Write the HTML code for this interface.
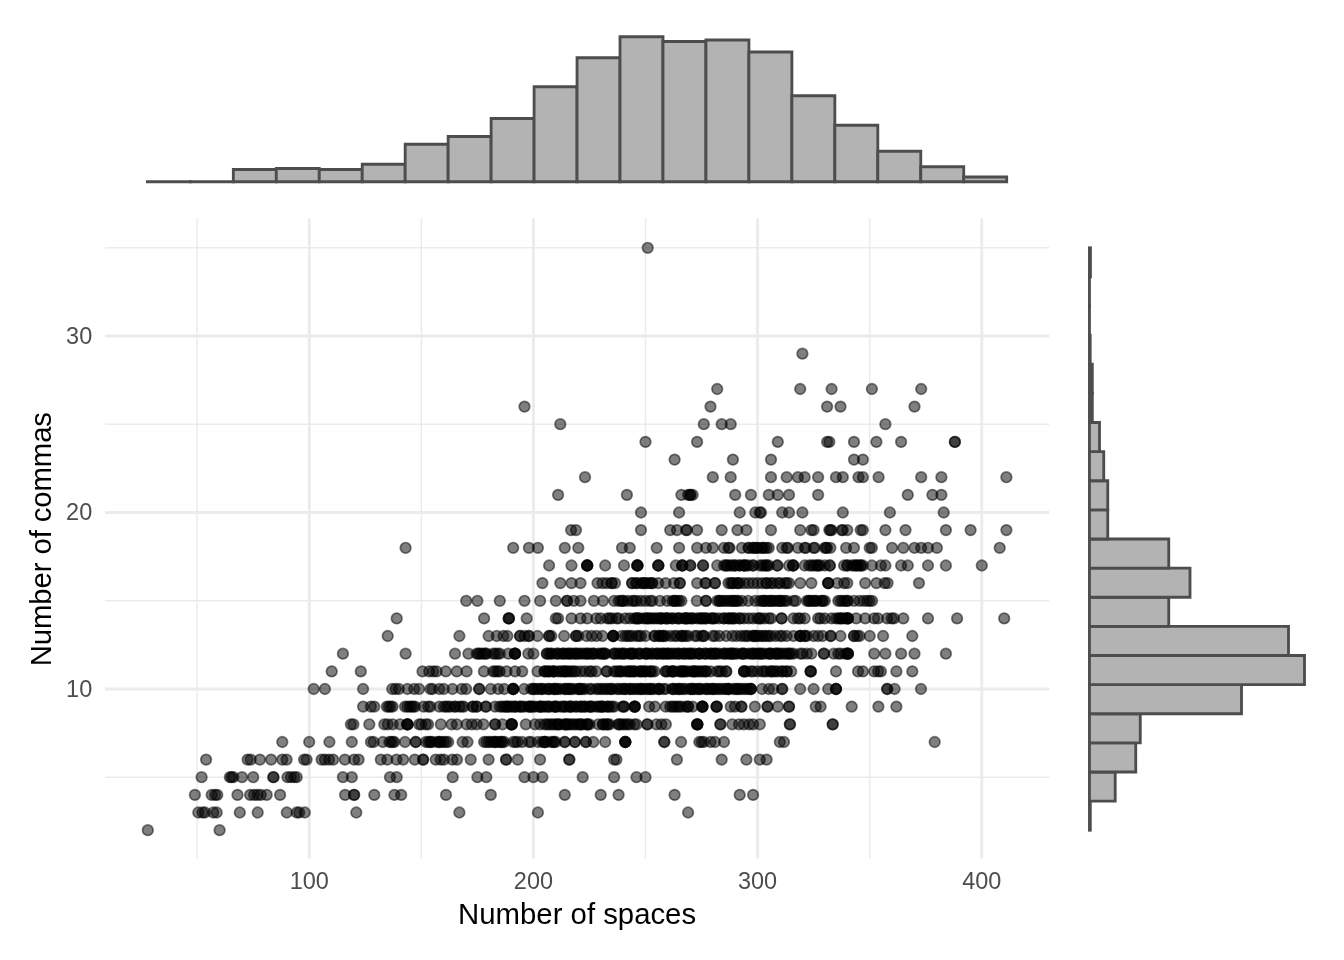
<!DOCTYPE html><html><head><meta charset="utf-8"><title>chart</title>
<style>html,body{margin:0;padding:0;background:#fff}svg{display:block;will-change:transform;transform:translateZ(0)}text{font-family:"Liberation Sans",sans-serif}</style></head><body>
<svg width="1344" height="960" viewBox="0 0 1344 960">
<rect width="1344" height="960" fill="#fff"/>
<g stroke="#EBEBEB" fill="none"><line x1="105.0" x2="1049.25" y1="777.25" y2="777.25" stroke-width="1.42"/><line x1="105.0" x2="1049.25" y1="600.75" y2="600.75" stroke-width="1.42"/><line x1="105.0" x2="1049.25" y1="424.25" y2="424.25" stroke-width="1.42"/><line x1="105.0" x2="1049.25" y1="247.75" y2="247.75" stroke-width="1.42"/><line y1="218.25" y2="858.75" x1="197.16" x2="197.16" stroke-width="1.42"/><line y1="218.25" y2="858.75" x1="421.33" x2="421.33" stroke-width="1.42"/><line y1="218.25" y2="858.75" x1="645.50" x2="645.50" stroke-width="1.42"/><line y1="218.25" y2="858.75" x1="869.67" x2="869.67" stroke-width="1.42"/><line x1="105.0" x2="1049.25" y1="689.00" y2="689.00" stroke-width="2.84"/><line x1="105.0" x2="1049.25" y1="512.50" y2="512.50" stroke-width="2.84"/><line x1="105.0" x2="1049.25" y1="336.00" y2="336.00" stroke-width="2.84"/><line y1="218.25" y2="858.75" x1="309.25" x2="309.25" stroke-width="2.84"/><line y1="218.25" y2="858.75" x1="533.42" x2="533.42" stroke-width="2.84"/><line y1="218.25" y2="858.75" x1="757.59" x2="757.59" stroke-width="2.84"/><line y1="218.25" y2="858.75" x1="981.76" x2="981.76" stroke-width="2.84"/></g>
<g fill="#000" fill-opacity="0.5" stroke="#000" stroke-opacity="0.5" stroke-width="1.7"><circle cx="647.7" cy="247.8" r="5.3"/><circle cx="802.4" cy="353.7" r="5.3"/><circle cx="717.2" cy="389.0" r="5.3"/><circle cx="800.2" cy="389.0" r="5.3"/><circle cx="831.6" cy="389.0" r="5.3"/><circle cx="871.9" cy="389.0" r="5.3"/><circle cx="921.2" cy="389.0" r="5.3"/><circle cx="524.5" cy="406.6" r="5.3"/><circle cx="710.5" cy="406.6" r="5.3"/><circle cx="827.1" cy="406.6" r="5.3"/><circle cx="840.5" cy="406.6" r="5.3"/><circle cx="914.5" cy="406.6" r="5.3"/><circle cx="560.3" cy="424.2" r="5.3"/><circle cx="703.8" cy="424.2" r="5.3"/><circle cx="721.7" cy="424.2" r="5.3"/><circle cx="730.7" cy="424.2" r="5.3"/><circle cx="885.4" cy="424.2" r="5.3"/><circle cx="645.5" cy="441.9" r="5.3"/><circle cx="697.1" cy="441.9" r="5.3"/><circle cx="777.8" cy="441.9" r="5.3"/><circle cx="827.1" cy="441.9" r="5.3"/><circle cx="829.3" cy="441.9" r="5.3"/><circle cx="854.0" cy="441.9" r="5.3"/><circle cx="876.4" cy="441.9" r="5.3"/><circle cx="901.1" cy="441.9" r="5.3"/><circle cx="954.9" cy="441.9" r="5.3"/><circle cx="954.9" cy="441.9" r="5.3"/><circle cx="674.6" cy="459.6" r="5.3"/><circle cx="732.9" cy="459.6" r="5.3"/><circle cx="771.0" cy="459.6" r="5.3"/><circle cx="854.0" cy="459.6" r="5.3"/><circle cx="862.9" cy="459.6" r="5.3"/><circle cx="585.0" cy="477.2" r="5.3"/><circle cx="712.8" cy="477.2" r="5.3"/><circle cx="730.7" cy="477.2" r="5.3"/><circle cx="771.0" cy="477.2" r="5.3"/><circle cx="786.7" cy="477.2" r="5.3"/><circle cx="797.9" cy="477.2" r="5.3"/><circle cx="804.7" cy="477.2" r="5.3"/><circle cx="818.1" cy="477.2" r="5.3"/><circle cx="836.0" cy="477.2" r="5.3"/><circle cx="842.8" cy="477.2" r="5.3"/><circle cx="858.5" cy="477.2" r="5.3"/><circle cx="862.9" cy="477.2" r="5.3"/><circle cx="878.6" cy="477.2" r="5.3"/><circle cx="921.2" cy="477.2" r="5.3"/><circle cx="941.4" cy="477.2" r="5.3"/><circle cx="1006.4" cy="477.2" r="5.3"/><circle cx="558.1" cy="494.9" r="5.3"/><circle cx="626.9" cy="494.9" r="5.3"/><circle cx="681.4" cy="494.9" r="5.3"/><circle cx="688.1" cy="494.9" r="5.3"/><circle cx="690.3" cy="494.9" r="5.3"/><circle cx="690.3" cy="494.9" r="5.3"/><circle cx="692.6" cy="494.9" r="5.3"/><circle cx="735.2" cy="494.9" r="5.3"/><circle cx="750.9" cy="494.9" r="5.3"/><circle cx="768.8" cy="494.9" r="5.3"/><circle cx="777.8" cy="494.9" r="5.3"/><circle cx="789.0" cy="494.9" r="5.3"/><circle cx="818.1" cy="494.9" r="5.3"/><circle cx="907.8" cy="494.9" r="5.3"/><circle cx="932.4" cy="494.9" r="5.3"/><circle cx="941.4" cy="494.9" r="5.3"/><circle cx="641.0" cy="512.5" r="5.3"/><circle cx="679.1" cy="512.5" r="5.3"/><circle cx="739.7" cy="512.5" r="5.3"/><circle cx="755.3" cy="512.5" r="5.3"/><circle cx="759.8" cy="512.5" r="5.3"/><circle cx="761.0" cy="512.5" r="5.3"/><circle cx="782.2" cy="512.5" r="5.3"/><circle cx="789.0" cy="512.5" r="5.3"/><circle cx="802.4" cy="512.5" r="5.3"/><circle cx="842.8" cy="512.5" r="5.3"/><circle cx="889.9" cy="512.5" r="5.3"/><circle cx="943.7" cy="512.5" r="5.3"/><circle cx="571.1" cy="530.1" r="5.3"/><circle cx="576.0" cy="530.1" r="5.3"/><circle cx="641.0" cy="530.1" r="5.3"/><circle cx="670.2" cy="530.1" r="5.3"/><circle cx="676.9" cy="530.1" r="5.3"/><circle cx="685.9" cy="530.1" r="5.3"/><circle cx="687.0" cy="530.1" r="5.3"/><circle cx="697.1" cy="530.1" r="5.3"/><circle cx="721.7" cy="530.1" r="5.3"/><circle cx="737.4" cy="530.1" r="5.3"/><circle cx="746.4" cy="530.1" r="5.3"/><circle cx="771.0" cy="530.1" r="5.3"/><circle cx="800.2" cy="530.1" r="5.3"/><circle cx="811.4" cy="530.1" r="5.3"/><circle cx="813.6" cy="530.1" r="5.3"/><circle cx="829.3" cy="530.1" r="5.3"/><circle cx="830.4" cy="530.1" r="5.3"/><circle cx="831.6" cy="530.1" r="5.3"/><circle cx="841.7" cy="530.1" r="5.3"/><circle cx="842.8" cy="530.1" r="5.3"/><circle cx="847.3" cy="530.1" r="5.3"/><circle cx="860.7" cy="530.1" r="5.3"/><circle cx="862.9" cy="530.1" r="5.3"/><circle cx="885.4" cy="530.1" r="5.3"/><circle cx="905.5" cy="530.1" r="5.3"/><circle cx="945.9" cy="530.1" r="5.3"/><circle cx="970.6" cy="530.1" r="5.3"/><circle cx="1006.4" cy="530.1" r="5.3"/><circle cx="405.6" cy="547.8" r="5.3"/><circle cx="513.2" cy="547.8" r="5.3"/><circle cx="528.9" cy="547.8" r="5.3"/><circle cx="537.9" cy="547.8" r="5.3"/><circle cx="564.8" cy="547.8" r="5.3"/><circle cx="578.3" cy="547.8" r="5.3"/><circle cx="622.0" cy="547.8" r="5.3"/><circle cx="629.8" cy="547.8" r="5.3"/><circle cx="656.7" cy="547.8" r="5.3"/><circle cx="679.1" cy="547.8" r="5.3"/><circle cx="697.1" cy="547.8" r="5.3"/><circle cx="706.0" cy="547.8" r="5.3"/><circle cx="712.8" cy="547.8" r="5.3"/><circle cx="724.0" cy="547.8" r="5.3"/><circle cx="728.4" cy="547.8" r="5.3"/><circle cx="729.6" cy="547.8" r="5.3"/><circle cx="741.9" cy="547.8" r="5.3"/><circle cx="748.6" cy="547.8" r="5.3"/><circle cx="748.6" cy="547.8" r="5.3"/><circle cx="753.1" cy="547.8" r="5.3"/><circle cx="753.1" cy="547.8" r="5.3"/><circle cx="755.3" cy="547.8" r="5.3"/><circle cx="757.6" cy="547.8" r="5.3"/><circle cx="757.6" cy="547.8" r="5.3"/><circle cx="762.1" cy="547.8" r="5.3"/><circle cx="762.1" cy="547.8" r="5.3"/><circle cx="764.3" cy="547.8" r="5.3"/><circle cx="766.6" cy="547.8" r="5.3"/><circle cx="768.8" cy="547.8" r="5.3"/><circle cx="782.2" cy="547.8" r="5.3"/><circle cx="786.7" cy="547.8" r="5.3"/><circle cx="787.9" cy="547.8" r="5.3"/><circle cx="797.9" cy="547.8" r="5.3"/><circle cx="804.7" cy="547.8" r="5.3"/><circle cx="805.8" cy="547.8" r="5.3"/><circle cx="813.6" cy="547.8" r="5.3"/><circle cx="814.8" cy="547.8" r="5.3"/><circle cx="824.8" cy="547.8" r="5.3"/><circle cx="826.0" cy="547.8" r="5.3"/><circle cx="827.1" cy="547.8" r="5.3"/><circle cx="830.4" cy="547.8" r="5.3"/><circle cx="846.1" cy="547.8" r="5.3"/><circle cx="854.0" cy="547.8" r="5.3"/><circle cx="869.7" cy="547.8" r="5.3"/><circle cx="871.9" cy="547.8" r="5.3"/><circle cx="892.1" cy="547.8" r="5.3"/><circle cx="903.3" cy="547.8" r="5.3"/><circle cx="914.5" cy="547.8" r="5.3"/><circle cx="921.2" cy="547.8" r="5.3"/><circle cx="928.0" cy="547.8" r="5.3"/><circle cx="936.9" cy="547.8" r="5.3"/><circle cx="999.7" cy="547.8" r="5.3"/><circle cx="549.1" cy="565.5" r="5.3"/><circle cx="571.5" cy="565.5" r="5.3"/><circle cx="587.2" cy="565.5" r="5.3"/><circle cx="587.2" cy="565.5" r="5.3"/><circle cx="587.2" cy="565.5" r="5.3"/><circle cx="587.2" cy="565.5" r="5.3"/><circle cx="605.2" cy="565.5" r="5.3"/><circle cx="624.0" cy="565.5" r="5.3"/><circle cx="637.4" cy="565.5" r="5.3"/><circle cx="637.4" cy="565.5" r="5.3"/><circle cx="637.4" cy="565.5" r="5.3"/><circle cx="637.4" cy="565.5" r="5.3"/><circle cx="658.3" cy="565.5" r="5.3"/><circle cx="658.3" cy="565.5" r="5.3"/><circle cx="658.3" cy="565.5" r="5.3"/><circle cx="675.8" cy="565.5" r="5.3"/><circle cx="682.3" cy="565.5" r="5.3"/><circle cx="682.3" cy="565.5" r="5.3"/><circle cx="682.3" cy="565.5" r="5.3"/><circle cx="690.3" cy="565.5" r="5.3"/><circle cx="690.3" cy="565.5" r="5.3"/><circle cx="703.1" cy="565.5" r="5.3"/><circle cx="703.1" cy="565.5" r="5.3"/><circle cx="717.2" cy="565.5" r="5.3"/><circle cx="724.0" cy="565.5" r="5.3"/><circle cx="726.2" cy="565.5" r="5.3"/><circle cx="726.2" cy="565.5" r="5.3"/><circle cx="728.4" cy="565.5" r="5.3"/><circle cx="730.7" cy="565.5" r="5.3"/><circle cx="732.9" cy="565.5" r="5.3"/><circle cx="735.2" cy="565.5" r="5.3"/><circle cx="735.2" cy="565.5" r="5.3"/><circle cx="739.7" cy="565.5" r="5.3"/><circle cx="739.7" cy="565.5" r="5.3"/><circle cx="744.1" cy="565.5" r="5.3"/><circle cx="744.1" cy="565.5" r="5.3"/><circle cx="744.1" cy="565.5" r="5.3"/><circle cx="746.4" cy="565.5" r="5.3"/><circle cx="748.6" cy="565.5" r="5.3"/><circle cx="753.1" cy="565.5" r="5.3"/><circle cx="753.1" cy="565.5" r="5.3"/><circle cx="759.8" cy="565.5" r="5.3"/><circle cx="762.1" cy="565.5" r="5.3"/><circle cx="764.3" cy="565.5" r="5.3"/><circle cx="766.6" cy="565.5" r="5.3"/><circle cx="766.6" cy="565.5" r="5.3"/><circle cx="768.8" cy="565.5" r="5.3"/><circle cx="777.3" cy="565.5" r="5.3"/><circle cx="777.3" cy="565.5" r="5.3"/><circle cx="789.0" cy="565.5" r="5.3"/><circle cx="793.2" cy="565.5" r="5.3"/><circle cx="793.2" cy="565.5" r="5.3"/><circle cx="793.2" cy="565.5" r="5.3"/><circle cx="804.7" cy="565.5" r="5.3"/><circle cx="809.1" cy="565.5" r="5.3"/><circle cx="811.4" cy="565.5" r="5.3"/><circle cx="813.6" cy="565.5" r="5.3"/><circle cx="815.9" cy="565.5" r="5.3"/><circle cx="818.1" cy="565.5" r="5.3"/><circle cx="818.1" cy="565.5" r="5.3"/><circle cx="820.4" cy="565.5" r="5.3"/><circle cx="824.8" cy="565.5" r="5.3"/><circle cx="829.8" cy="565.5" r="5.3"/><circle cx="829.8" cy="565.5" r="5.3"/><circle cx="844.1" cy="565.5" r="5.3"/><circle cx="847.3" cy="565.5" r="5.3"/><circle cx="847.3" cy="565.5" r="5.3"/><circle cx="851.7" cy="565.5" r="5.3"/><circle cx="854.0" cy="565.5" r="5.3"/><circle cx="856.2" cy="565.5" r="5.3"/><circle cx="856.2" cy="565.5" r="5.3"/><circle cx="858.5" cy="565.5" r="5.3"/><circle cx="860.7" cy="565.5" r="5.3"/><circle cx="860.7" cy="565.5" r="5.3"/><circle cx="862.9" cy="565.5" r="5.3"/><circle cx="871.9" cy="565.5" r="5.3"/><circle cx="880.9" cy="565.5" r="5.3"/><circle cx="885.4" cy="565.5" r="5.3"/><circle cx="901.1" cy="565.5" r="5.3"/><circle cx="907.8" cy="565.5" r="5.3"/><circle cx="928.0" cy="565.5" r="5.3"/><circle cx="945.9" cy="565.5" r="5.3"/><circle cx="981.8" cy="565.5" r="5.3"/><circle cx="542.4" cy="583.1" r="5.3"/><circle cx="560.3" cy="583.1" r="5.3"/><circle cx="571.5" cy="583.1" r="5.3"/><circle cx="580.5" cy="583.1" r="5.3"/><circle cx="597.5" cy="583.1" r="5.3"/><circle cx="602.5" cy="583.1" r="5.3"/><circle cx="606.7" cy="583.1" r="5.3"/><circle cx="611.7" cy="583.1" r="5.3"/><circle cx="611.7" cy="583.1" r="5.3"/><circle cx="615.0" cy="583.1" r="5.3"/><circle cx="632.1" cy="583.1" r="5.3"/><circle cx="632.1" cy="583.1" r="5.3"/><circle cx="636.5" cy="583.1" r="5.3"/><circle cx="636.5" cy="583.1" r="5.3"/><circle cx="641.0" cy="583.1" r="5.3"/><circle cx="643.3" cy="583.1" r="5.3"/><circle cx="643.3" cy="583.1" r="5.3"/><circle cx="645.5" cy="583.1" r="5.3"/><circle cx="647.7" cy="583.1" r="5.3"/><circle cx="650.0" cy="583.1" r="5.3"/><circle cx="652.2" cy="583.1" r="5.3"/><circle cx="652.2" cy="583.1" r="5.3"/><circle cx="658.3" cy="583.1" r="5.3"/><circle cx="665.7" cy="583.1" r="5.3"/><circle cx="674.0" cy="583.1" r="5.3"/><circle cx="679.8" cy="583.1" r="5.3"/><circle cx="679.8" cy="583.1" r="5.3"/><circle cx="697.1" cy="583.1" r="5.3"/><circle cx="705.6" cy="583.1" r="5.3"/><circle cx="705.6" cy="583.1" r="5.3"/><circle cx="715.0" cy="583.1" r="5.3"/><circle cx="715.0" cy="583.1" r="5.3"/><circle cx="728.4" cy="583.1" r="5.3"/><circle cx="730.7" cy="583.1" r="5.3"/><circle cx="732.9" cy="583.1" r="5.3"/><circle cx="732.9" cy="583.1" r="5.3"/><circle cx="737.4" cy="583.1" r="5.3"/><circle cx="737.4" cy="583.1" r="5.3"/><circle cx="739.7" cy="583.1" r="5.3"/><circle cx="744.1" cy="583.1" r="5.3"/><circle cx="748.6" cy="583.1" r="5.3"/><circle cx="753.1" cy="583.1" r="5.3"/><circle cx="757.6" cy="583.1" r="5.3"/><circle cx="762.1" cy="583.1" r="5.3"/><circle cx="766.6" cy="583.1" r="5.3"/><circle cx="766.6" cy="583.1" r="5.3"/><circle cx="771.0" cy="583.1" r="5.3"/><circle cx="773.3" cy="583.1" r="5.3"/><circle cx="777.8" cy="583.1" r="5.3"/><circle cx="780.0" cy="583.1" r="5.3"/><circle cx="784.5" cy="583.1" r="5.3"/><circle cx="786.7" cy="583.1" r="5.3"/><circle cx="789.0" cy="583.1" r="5.3"/><circle cx="800.2" cy="583.1" r="5.3"/><circle cx="811.4" cy="583.1" r="5.3"/><circle cx="828.2" cy="583.1" r="5.3"/><circle cx="828.2" cy="583.1" r="5.3"/><circle cx="828.2" cy="583.1" r="5.3"/><circle cx="837.4" cy="583.1" r="5.3"/><circle cx="844.1" cy="583.1" r="5.3"/><circle cx="847.3" cy="583.1" r="5.3"/><circle cx="865.2" cy="583.1" r="5.3"/><circle cx="876.4" cy="583.1" r="5.3"/><circle cx="884.7" cy="583.1" r="5.3"/><circle cx="887.6" cy="583.1" r="5.3"/><circle cx="919.0" cy="583.1" r="5.3"/><circle cx="466.2" cy="600.8" r="5.3"/><circle cx="477.4" cy="600.8" r="5.3"/><circle cx="499.8" cy="600.8" r="5.3"/><circle cx="524.5" cy="600.8" r="5.3"/><circle cx="540.1" cy="600.8" r="5.3"/><circle cx="555.8" cy="600.8" r="5.3"/><circle cx="567.0" cy="600.8" r="5.3"/><circle cx="567.0" cy="600.8" r="5.3"/><circle cx="573.8" cy="600.8" r="5.3"/><circle cx="580.5" cy="600.8" r="5.3"/><circle cx="593.9" cy="600.8" r="5.3"/><circle cx="602.9" cy="600.8" r="5.3"/><circle cx="614.1" cy="600.8" r="5.3"/><circle cx="618.6" cy="600.8" r="5.3"/><circle cx="620.8" cy="600.8" r="5.3"/><circle cx="623.1" cy="600.8" r="5.3"/><circle cx="623.1" cy="600.8" r="5.3"/><circle cx="627.6" cy="600.8" r="5.3"/><circle cx="632.1" cy="600.8" r="5.3"/><circle cx="634.3" cy="600.8" r="5.3"/><circle cx="636.5" cy="600.8" r="5.3"/><circle cx="641.0" cy="600.8" r="5.3"/><circle cx="645.5" cy="600.8" r="5.3"/><circle cx="650.0" cy="600.8" r="5.3"/><circle cx="652.2" cy="600.8" r="5.3"/><circle cx="659.9" cy="600.8" r="5.3"/><circle cx="667.2" cy="600.8" r="5.3"/><circle cx="672.4" cy="600.8" r="5.3"/><circle cx="674.6" cy="600.8" r="5.3"/><circle cx="674.6" cy="600.8" r="5.3"/><circle cx="676.9" cy="600.8" r="5.3"/><circle cx="679.1" cy="600.8" r="5.3"/><circle cx="681.4" cy="600.8" r="5.3"/><circle cx="696.8" cy="600.8" r="5.3"/><circle cx="706.0" cy="600.8" r="5.3"/><circle cx="706.0" cy="600.8" r="5.3"/><circle cx="717.2" cy="600.8" r="5.3"/><circle cx="719.5" cy="600.8" r="5.3"/><circle cx="719.5" cy="600.8" r="5.3"/><circle cx="721.7" cy="600.8" r="5.3"/><circle cx="724.0" cy="600.8" r="5.3"/><circle cx="726.2" cy="600.8" r="5.3"/><circle cx="728.4" cy="600.8" r="5.3"/><circle cx="730.7" cy="600.8" r="5.3"/><circle cx="732.9" cy="600.8" r="5.3"/><circle cx="732.9" cy="600.8" r="5.3"/><circle cx="735.2" cy="600.8" r="5.3"/><circle cx="737.4" cy="600.8" r="5.3"/><circle cx="737.4" cy="600.8" r="5.3"/><circle cx="741.9" cy="600.8" r="5.3"/><circle cx="748.2" cy="600.8" r="5.3"/><circle cx="755.3" cy="600.8" r="5.3"/><circle cx="759.8" cy="600.8" r="5.3"/><circle cx="762.1" cy="600.8" r="5.3"/><circle cx="764.3" cy="600.8" r="5.3"/><circle cx="764.3" cy="600.8" r="5.3"/><circle cx="766.6" cy="600.8" r="5.3"/><circle cx="768.8" cy="600.8" r="5.3"/><circle cx="771.0" cy="600.8" r="5.3"/><circle cx="771.0" cy="600.8" r="5.3"/><circle cx="773.3" cy="600.8" r="5.3"/><circle cx="775.5" cy="600.8" r="5.3"/><circle cx="777.8" cy="600.8" r="5.3"/><circle cx="780.0" cy="600.8" r="5.3"/><circle cx="780.0" cy="600.8" r="5.3"/><circle cx="782.2" cy="600.8" r="5.3"/><circle cx="784.5" cy="600.8" r="5.3"/><circle cx="786.7" cy="600.8" r="5.3"/><circle cx="793.5" cy="600.8" r="5.3"/><circle cx="795.7" cy="600.8" r="5.3"/><circle cx="806.9" cy="600.8" r="5.3"/><circle cx="809.1" cy="600.8" r="5.3"/><circle cx="809.1" cy="600.8" r="5.3"/><circle cx="811.4" cy="600.8" r="5.3"/><circle cx="813.6" cy="600.8" r="5.3"/><circle cx="815.9" cy="600.8" r="5.3"/><circle cx="815.9" cy="600.8" r="5.3"/><circle cx="820.4" cy="600.8" r="5.3"/><circle cx="822.6" cy="600.8" r="5.3"/><circle cx="822.6" cy="600.8" r="5.3"/><circle cx="824.8" cy="600.8" r="5.3"/><circle cx="838.3" cy="600.8" r="5.3"/><circle cx="840.5" cy="600.8" r="5.3"/><circle cx="842.8" cy="600.8" r="5.3"/><circle cx="845.0" cy="600.8" r="5.3"/><circle cx="847.3" cy="600.8" r="5.3"/><circle cx="847.9" cy="600.8" r="5.3"/><circle cx="854.0" cy="600.8" r="5.3"/><circle cx="859.6" cy="600.8" r="5.3"/><circle cx="863.8" cy="600.8" r="5.3"/><circle cx="867.2" cy="600.8" r="5.3"/><circle cx="869.7" cy="600.8" r="5.3"/><circle cx="872.1" cy="600.8" r="5.3"/><circle cx="396.7" cy="618.4" r="5.3"/><circle cx="484.1" cy="618.4" r="5.3"/><circle cx="508.8" cy="618.4" r="5.3"/><circle cx="508.8" cy="618.4" r="5.3"/><circle cx="508.8" cy="618.4" r="5.3"/><circle cx="526.7" cy="618.4" r="5.3"/><circle cx="555.8" cy="618.4" r="5.3"/><circle cx="558.1" cy="618.4" r="5.3"/><circle cx="571.5" cy="618.4" r="5.3"/><circle cx="580.5" cy="618.4" r="5.3"/><circle cx="587.2" cy="618.4" r="5.3"/><circle cx="596.2" cy="618.4" r="5.3"/><circle cx="600.7" cy="618.4" r="5.3"/><circle cx="607.4" cy="618.4" r="5.3"/><circle cx="609.6" cy="618.4" r="5.3"/><circle cx="611.9" cy="618.4" r="5.3"/><circle cx="616.4" cy="618.4" r="5.3"/><circle cx="618.6" cy="618.4" r="5.3"/><circle cx="625.3" cy="618.4" r="5.3"/><circle cx="629.8" cy="618.4" r="5.3"/><circle cx="634.3" cy="618.4" r="5.3"/><circle cx="636.5" cy="618.4" r="5.3"/><circle cx="636.5" cy="618.4" r="5.3"/><circle cx="638.8" cy="618.4" r="5.3"/><circle cx="638.8" cy="618.4" r="5.3"/><circle cx="643.3" cy="618.4" r="5.3"/><circle cx="645.5" cy="618.4" r="5.3"/><circle cx="647.7" cy="618.4" r="5.3"/><circle cx="647.7" cy="618.4" r="5.3"/><circle cx="650.0" cy="618.4" r="5.3"/><circle cx="652.2" cy="618.4" r="5.3"/><circle cx="654.5" cy="618.4" r="5.3"/><circle cx="656.7" cy="618.4" r="5.3"/><circle cx="659.0" cy="618.4" r="5.3"/><circle cx="661.2" cy="618.4" r="5.3"/><circle cx="661.2" cy="618.4" r="5.3"/><circle cx="661.2" cy="618.4" r="5.3"/><circle cx="665.7" cy="618.4" r="5.3"/><circle cx="665.7" cy="618.4" r="5.3"/><circle cx="667.9" cy="618.4" r="5.3"/><circle cx="667.9" cy="618.4" r="5.3"/><circle cx="672.4" cy="618.4" r="5.3"/><circle cx="672.4" cy="618.4" r="5.3"/><circle cx="676.9" cy="618.4" r="5.3"/><circle cx="679.1" cy="618.4" r="5.3"/><circle cx="679.1" cy="618.4" r="5.3"/><circle cx="683.6" cy="618.4" r="5.3"/><circle cx="685.9" cy="618.4" r="5.3"/><circle cx="685.9" cy="618.4" r="5.3"/><circle cx="685.9" cy="618.4" r="5.3"/><circle cx="688.1" cy="618.4" r="5.3"/><circle cx="690.3" cy="618.4" r="5.3"/><circle cx="692.6" cy="618.4" r="5.3"/><circle cx="692.6" cy="618.4" r="5.3"/><circle cx="697.1" cy="618.4" r="5.3"/><circle cx="699.3" cy="618.4" r="5.3"/><circle cx="701.5" cy="618.4" r="5.3"/><circle cx="701.5" cy="618.4" r="5.3"/><circle cx="703.8" cy="618.4" r="5.3"/><circle cx="706.0" cy="618.4" r="5.3"/><circle cx="706.0" cy="618.4" r="5.3"/><circle cx="710.5" cy="618.4" r="5.3"/><circle cx="712.8" cy="618.4" r="5.3"/><circle cx="712.8" cy="618.4" r="5.3"/><circle cx="715.0" cy="618.4" r="5.3"/><circle cx="719.0" cy="618.4" r="5.3"/><circle cx="724.0" cy="618.4" r="5.3"/><circle cx="724.0" cy="618.4" r="5.3"/><circle cx="728.4" cy="618.4" r="5.3"/><circle cx="728.4" cy="618.4" r="5.3"/><circle cx="730.7" cy="618.4" r="5.3"/><circle cx="732.9" cy="618.4" r="5.3"/><circle cx="732.9" cy="618.4" r="5.3"/><circle cx="735.2" cy="618.4" r="5.3"/><circle cx="739.7" cy="618.4" r="5.3"/><circle cx="739.7" cy="618.4" r="5.3"/><circle cx="744.1" cy="618.4" r="5.3"/><circle cx="748.6" cy="618.4" r="5.3"/><circle cx="753.1" cy="618.4" r="5.3"/><circle cx="757.6" cy="618.4" r="5.3"/><circle cx="759.8" cy="618.4" r="5.3"/><circle cx="759.8" cy="618.4" r="5.3"/><circle cx="764.3" cy="618.4" r="5.3"/><circle cx="768.8" cy="618.4" r="5.3"/><circle cx="771.0" cy="618.4" r="5.3"/><circle cx="781.6" cy="618.4" r="5.3"/><circle cx="781.6" cy="618.4" r="5.3"/><circle cx="793.5" cy="618.4" r="5.3"/><circle cx="797.9" cy="618.4" r="5.3"/><circle cx="800.2" cy="618.4" r="5.3"/><circle cx="804.7" cy="618.4" r="5.3"/><circle cx="818.1" cy="618.4" r="5.3"/><circle cx="820.4" cy="618.4" r="5.3"/><circle cx="824.8" cy="618.4" r="5.3"/><circle cx="831.6" cy="618.4" r="5.3"/><circle cx="836.0" cy="618.4" r="5.3"/><circle cx="838.3" cy="618.4" r="5.3"/><circle cx="840.5" cy="618.4" r="5.3"/><circle cx="840.5" cy="618.4" r="5.3"/><circle cx="842.8" cy="618.4" r="5.3"/><circle cx="845.0" cy="618.4" r="5.3"/><circle cx="847.3" cy="618.4" r="5.3"/><circle cx="847.9" cy="618.4" r="5.3"/><circle cx="847.9" cy="618.4" r="5.3"/><circle cx="847.9" cy="618.4" r="5.3"/><circle cx="856.2" cy="618.4" r="5.3"/><circle cx="865.2" cy="618.4" r="5.3"/><circle cx="874.2" cy="618.4" r="5.3"/><circle cx="878.0" cy="618.4" r="5.3"/><circle cx="887.2" cy="618.4" r="5.3"/><circle cx="891.6" cy="618.4" r="5.3"/><circle cx="893.9" cy="618.4" r="5.3"/><circle cx="903.3" cy="618.4" r="5.3"/><circle cx="928.0" cy="618.4" r="5.3"/><circle cx="957.1" cy="618.4" r="5.3"/><circle cx="1004.2" cy="618.4" r="5.3"/><circle cx="387.7" cy="636.0" r="5.3"/><circle cx="459.4" cy="636.0" r="5.3"/><circle cx="488.6" cy="636.0" r="5.3"/><circle cx="496.7" cy="636.0" r="5.3"/><circle cx="503.4" cy="636.0" r="5.3"/><circle cx="507.4" cy="636.0" r="5.3"/><circle cx="520.0" cy="636.0" r="5.3"/><circle cx="520.0" cy="636.0" r="5.3"/><circle cx="524.5" cy="636.0" r="5.3"/><circle cx="528.9" cy="636.0" r="5.3"/><circle cx="528.9" cy="636.0" r="5.3"/><circle cx="537.5" cy="636.0" r="5.3"/><circle cx="549.1" cy="636.0" r="5.3"/><circle cx="549.1" cy="636.0" r="5.3"/><circle cx="551.4" cy="636.0" r="5.3"/><circle cx="564.1" cy="636.0" r="5.3"/><circle cx="576.0" cy="636.0" r="5.3"/><circle cx="576.0" cy="636.0" r="5.3"/><circle cx="578.3" cy="636.0" r="5.3"/><circle cx="586.5" cy="636.0" r="5.3"/><circle cx="591.7" cy="636.0" r="5.3"/><circle cx="596.6" cy="636.0" r="5.3"/><circle cx="602.5" cy="636.0" r="5.3"/><circle cx="613.2" cy="636.0" r="5.3"/><circle cx="613.2" cy="636.0" r="5.3"/><circle cx="613.2" cy="636.0" r="5.3"/><circle cx="613.2" cy="636.0" r="5.3"/><circle cx="621.7" cy="636.0" r="5.3"/><circle cx="625.3" cy="636.0" r="5.3"/><circle cx="627.6" cy="636.0" r="5.3"/><circle cx="629.8" cy="636.0" r="5.3"/><circle cx="632.1" cy="636.0" r="5.3"/><circle cx="636.5" cy="636.0" r="5.3"/><circle cx="638.8" cy="636.0" r="5.3"/><circle cx="641.0" cy="636.0" r="5.3"/><circle cx="645.5" cy="636.0" r="5.3"/><circle cx="654.5" cy="636.0" r="5.3"/><circle cx="654.5" cy="636.0" r="5.3"/><circle cx="659.0" cy="636.0" r="5.3"/><circle cx="659.0" cy="636.0" r="5.3"/><circle cx="661.2" cy="636.0" r="5.3"/><circle cx="663.4" cy="636.0" r="5.3"/><circle cx="663.4" cy="636.0" r="5.3"/><circle cx="665.7" cy="636.0" r="5.3"/><circle cx="670.6" cy="636.0" r="5.3"/><circle cx="674.6" cy="636.0" r="5.3"/><circle cx="676.9" cy="636.0" r="5.3"/><circle cx="681.4" cy="636.0" r="5.3"/><circle cx="681.4" cy="636.0" r="5.3"/><circle cx="683.6" cy="636.0" r="5.3"/><circle cx="685.9" cy="636.0" r="5.3"/><circle cx="688.1" cy="636.0" r="5.3"/><circle cx="694.8" cy="636.0" r="5.3"/><circle cx="697.1" cy="636.0" r="5.3"/><circle cx="701.5" cy="636.0" r="5.3"/><circle cx="703.8" cy="636.0" r="5.3"/><circle cx="703.8" cy="636.0" r="5.3"/><circle cx="712.8" cy="636.0" r="5.3"/><circle cx="715.0" cy="636.0" r="5.3"/><circle cx="719.5" cy="636.0" r="5.3"/><circle cx="726.2" cy="636.0" r="5.3"/><circle cx="732.3" cy="636.0" r="5.3"/><circle cx="736.3" cy="636.0" r="5.3"/><circle cx="740.8" cy="636.0" r="5.3"/><circle cx="744.1" cy="636.0" r="5.3"/><circle cx="746.4" cy="636.0" r="5.3"/><circle cx="748.6" cy="636.0" r="5.3"/><circle cx="753.1" cy="636.0" r="5.3"/><circle cx="753.1" cy="636.0" r="5.3"/><circle cx="755.3" cy="636.0" r="5.3"/><circle cx="755.3" cy="636.0" r="5.3"/><circle cx="757.6" cy="636.0" r="5.3"/><circle cx="759.8" cy="636.0" r="5.3"/><circle cx="762.1" cy="636.0" r="5.3"/><circle cx="764.3" cy="636.0" r="5.3"/><circle cx="766.6" cy="636.0" r="5.3"/><circle cx="768.8" cy="636.0" r="5.3"/><circle cx="771.0" cy="636.0" r="5.3"/><circle cx="775.5" cy="636.0" r="5.3"/><circle cx="780.0" cy="636.0" r="5.3"/><circle cx="782.2" cy="636.0" r="5.3"/><circle cx="786.7" cy="636.0" r="5.3"/><circle cx="793.5" cy="636.0" r="5.3"/><circle cx="800.2" cy="636.0" r="5.3"/><circle cx="800.2" cy="636.0" r="5.3"/><circle cx="800.2" cy="636.0" r="5.3"/><circle cx="804.7" cy="636.0" r="5.3"/><circle cx="804.7" cy="636.0" r="5.3"/><circle cx="806.9" cy="636.0" r="5.3"/><circle cx="813.6" cy="636.0" r="5.3"/><circle cx="818.1" cy="636.0" r="5.3"/><circle cx="822.6" cy="636.0" r="5.3"/><circle cx="830.7" cy="636.0" r="5.3"/><circle cx="830.7" cy="636.0" r="5.3"/><circle cx="840.5" cy="636.0" r="5.3"/><circle cx="854.0" cy="636.0" r="5.3"/><circle cx="854.0" cy="636.0" r="5.3"/><circle cx="857.3" cy="636.0" r="5.3"/><circle cx="859.6" cy="636.0" r="5.3"/><circle cx="869.7" cy="636.0" r="5.3"/><circle cx="883.1" cy="636.0" r="5.3"/><circle cx="912.3" cy="636.0" r="5.3"/><circle cx="342.9" cy="653.7" r="5.3"/><circle cx="405.6" cy="653.7" r="5.3"/><circle cx="455.0" cy="653.7" r="5.3"/><circle cx="468.4" cy="653.7" r="5.3"/><circle cx="476.7" cy="653.7" r="5.3"/><circle cx="478.5" cy="653.7" r="5.3"/><circle cx="479.6" cy="653.7" r="5.3"/><circle cx="481.9" cy="653.7" r="5.3"/><circle cx="484.1" cy="653.7" r="5.3"/><circle cx="485.4" cy="653.7" r="5.3"/><circle cx="486.6" cy="653.7" r="5.3"/><circle cx="493.1" cy="653.7" r="5.3"/><circle cx="495.3" cy="653.7" r="5.3"/><circle cx="497.6" cy="653.7" r="5.3"/><circle cx="499.8" cy="653.7" r="5.3"/><circle cx="508.3" cy="653.7" r="5.3"/><circle cx="515.0" cy="653.7" r="5.3"/><circle cx="515.0" cy="653.7" r="5.3"/><circle cx="515.0" cy="653.7" r="5.3"/><circle cx="515.0" cy="653.7" r="5.3"/><circle cx="528.3" cy="653.7" r="5.3"/><circle cx="533.4" cy="653.7" r="5.3"/><circle cx="546.9" cy="653.7" r="5.3"/><circle cx="546.9" cy="653.7" r="5.3"/><circle cx="549.1" cy="653.7" r="5.3"/><circle cx="551.4" cy="653.7" r="5.3"/><circle cx="551.4" cy="653.7" r="5.3"/><circle cx="555.8" cy="653.7" r="5.3"/><circle cx="558.1" cy="653.7" r="5.3"/><circle cx="558.1" cy="653.7" r="5.3"/><circle cx="562.6" cy="653.7" r="5.3"/><circle cx="562.6" cy="653.7" r="5.3"/><circle cx="564.8" cy="653.7" r="5.3"/><circle cx="567.0" cy="653.7" r="5.3"/><circle cx="569.3" cy="653.7" r="5.3"/><circle cx="569.3" cy="653.7" r="5.3"/><circle cx="571.5" cy="653.7" r="5.3"/><circle cx="573.8" cy="653.7" r="5.3"/><circle cx="576.0" cy="653.7" r="5.3"/><circle cx="576.0" cy="653.7" r="5.3"/><circle cx="578.3" cy="653.7" r="5.3"/><circle cx="582.7" cy="653.7" r="5.3"/><circle cx="580.5" cy="653.7" r="5.3"/><circle cx="585.0" cy="653.7" r="5.3"/><circle cx="587.2" cy="653.7" r="5.3"/><circle cx="587.2" cy="653.7" r="5.3"/><circle cx="589.5" cy="653.7" r="5.3"/><circle cx="591.7" cy="653.7" r="5.3"/><circle cx="593.9" cy="653.7" r="5.3"/><circle cx="593.9" cy="653.7" r="5.3"/><circle cx="598.4" cy="653.7" r="5.3"/><circle cx="600.7" cy="653.7" r="5.3"/><circle cx="602.9" cy="653.7" r="5.3"/><circle cx="602.9" cy="653.7" r="5.3"/><circle cx="605.2" cy="653.7" r="5.3"/><circle cx="605.2" cy="653.7" r="5.3"/><circle cx="614.1" cy="653.7" r="5.3"/><circle cx="614.1" cy="653.7" r="5.3"/><circle cx="616.4" cy="653.7" r="5.3"/><circle cx="618.6" cy="653.7" r="5.3"/><circle cx="620.8" cy="653.7" r="5.3"/><circle cx="623.1" cy="653.7" r="5.3"/><circle cx="623.1" cy="653.7" r="5.3"/><circle cx="625.3" cy="653.7" r="5.3"/><circle cx="629.8" cy="653.7" r="5.3"/><circle cx="629.8" cy="653.7" r="5.3"/><circle cx="632.1" cy="653.7" r="5.3"/><circle cx="632.1" cy="653.7" r="5.3"/><circle cx="634.3" cy="653.7" r="5.3"/><circle cx="638.8" cy="653.7" r="5.3"/><circle cx="638.8" cy="653.7" r="5.3"/><circle cx="641.0" cy="653.7" r="5.3"/><circle cx="645.5" cy="653.7" r="5.3"/><circle cx="645.5" cy="653.7" r="5.3"/><circle cx="647.7" cy="653.7" r="5.3"/><circle cx="647.7" cy="653.7" r="5.3"/><circle cx="652.2" cy="653.7" r="5.3"/><circle cx="652.2" cy="653.7" r="5.3"/><circle cx="656.7" cy="653.7" r="5.3"/><circle cx="656.7" cy="653.7" r="5.3"/><circle cx="659.0" cy="653.7" r="5.3"/><circle cx="661.2" cy="653.7" r="5.3"/><circle cx="663.4" cy="653.7" r="5.3"/><circle cx="663.4" cy="653.7" r="5.3"/><circle cx="665.7" cy="653.7" r="5.3"/><circle cx="667.9" cy="653.7" r="5.3"/><circle cx="667.9" cy="653.7" r="5.3"/><circle cx="670.2" cy="653.7" r="5.3"/><circle cx="672.4" cy="653.7" r="5.3"/><circle cx="674.6" cy="653.7" r="5.3"/><circle cx="676.9" cy="653.7" r="5.3"/><circle cx="679.1" cy="653.7" r="5.3"/><circle cx="679.1" cy="653.7" r="5.3"/><circle cx="683.6" cy="653.7" r="5.3"/><circle cx="683.6" cy="653.7" r="5.3"/><circle cx="685.9" cy="653.7" r="5.3"/><circle cx="688.1" cy="653.7" r="5.3"/><circle cx="690.3" cy="653.7" r="5.3"/><circle cx="690.3" cy="653.7" r="5.3"/><circle cx="692.6" cy="653.7" r="5.3"/><circle cx="694.8" cy="653.7" r="5.3"/><circle cx="699.3" cy="653.7" r="5.3"/><circle cx="699.3" cy="653.7" r="5.3"/><circle cx="699.3" cy="653.7" r="5.3"/><circle cx="703.8" cy="653.7" r="5.3"/><circle cx="706.0" cy="653.7" r="5.3"/><circle cx="706.0" cy="653.7" r="5.3"/><circle cx="710.5" cy="653.7" r="5.3"/><circle cx="710.5" cy="653.7" r="5.3"/><circle cx="712.8" cy="653.7" r="5.3"/><circle cx="715.0" cy="653.7" r="5.3"/><circle cx="715.0" cy="653.7" r="5.3"/><circle cx="717.2" cy="653.7" r="5.3"/><circle cx="719.5" cy="653.7" r="5.3"/><circle cx="724.0" cy="653.7" r="5.3"/><circle cx="724.0" cy="653.7" r="5.3"/><circle cx="726.2" cy="653.7" r="5.3"/><circle cx="728.4" cy="653.7" r="5.3"/><circle cx="730.7" cy="653.7" r="5.3"/><circle cx="730.7" cy="653.7" r="5.3"/><circle cx="732.9" cy="653.7" r="5.3"/><circle cx="732.9" cy="653.7" r="5.3"/><circle cx="735.2" cy="653.7" r="5.3"/><circle cx="737.4" cy="653.7" r="5.3"/><circle cx="741.9" cy="653.7" r="5.3"/><circle cx="741.9" cy="653.7" r="5.3"/><circle cx="744.1" cy="653.7" r="5.3"/><circle cx="744.1" cy="653.7" r="5.3"/><circle cx="748.6" cy="653.7" r="5.3"/><circle cx="750.9" cy="653.7" r="5.3"/><circle cx="753.1" cy="653.7" r="5.3"/><circle cx="753.1" cy="653.7" r="5.3"/><circle cx="755.3" cy="653.7" r="5.3"/><circle cx="757.6" cy="653.7" r="5.3"/><circle cx="759.8" cy="653.7" r="5.3"/><circle cx="759.8" cy="653.7" r="5.3"/><circle cx="762.1" cy="653.7" r="5.3"/><circle cx="764.3" cy="653.7" r="5.3"/><circle cx="768.8" cy="653.7" r="5.3"/><circle cx="768.8" cy="653.7" r="5.3"/><circle cx="771.0" cy="653.7" r="5.3"/><circle cx="771.0" cy="653.7" r="5.3"/><circle cx="775.5" cy="653.7" r="5.3"/><circle cx="775.5" cy="653.7" r="5.3"/><circle cx="777.8" cy="653.7" r="5.3"/><circle cx="777.8" cy="653.7" r="5.3"/><circle cx="780.0" cy="653.7" r="5.3"/><circle cx="782.2" cy="653.7" r="5.3"/><circle cx="784.5" cy="653.7" r="5.3"/><circle cx="786.7" cy="653.7" r="5.3"/><circle cx="789.0" cy="653.7" r="5.3"/><circle cx="789.0" cy="653.7" r="5.3"/><circle cx="791.2" cy="653.7" r="5.3"/><circle cx="793.5" cy="653.7" r="5.3"/><circle cx="800.2" cy="653.7" r="5.3"/><circle cx="802.4" cy="653.7" r="5.3"/><circle cx="806.9" cy="653.7" r="5.3"/><circle cx="811.4" cy="653.7" r="5.3"/><circle cx="823.9" cy="653.7" r="5.3"/><circle cx="823.9" cy="653.7" r="5.3"/><circle cx="833.8" cy="653.7" r="5.3"/><circle cx="838.3" cy="653.7" r="5.3"/><circle cx="840.5" cy="653.7" r="5.3"/><circle cx="845.0" cy="653.7" r="5.3"/><circle cx="847.3" cy="653.7" r="5.3"/><circle cx="847.9" cy="653.7" r="5.3"/><circle cx="847.9" cy="653.7" r="5.3"/><circle cx="847.9" cy="653.7" r="5.3"/><circle cx="874.2" cy="653.7" r="5.3"/><circle cx="885.4" cy="653.7" r="5.3"/><circle cx="901.1" cy="653.7" r="5.3"/><circle cx="914.5" cy="653.7" r="5.3"/><circle cx="945.9" cy="653.7" r="5.3"/><circle cx="331.7" cy="671.4" r="5.3"/><circle cx="360.8" cy="671.4" r="5.3"/><circle cx="422.5" cy="671.4" r="5.3"/><circle cx="429.2" cy="671.4" r="5.3"/><circle cx="433.2" cy="671.4" r="5.3"/><circle cx="436.6" cy="671.4" r="5.3"/><circle cx="445.8" cy="671.4" r="5.3"/><circle cx="456.8" cy="671.4" r="5.3"/><circle cx="466.6" cy="671.4" r="5.3"/><circle cx="483.9" cy="671.4" r="5.3"/><circle cx="493.1" cy="671.4" r="5.3"/><circle cx="495.3" cy="671.4" r="5.3"/><circle cx="497.6" cy="671.4" r="5.3"/><circle cx="499.8" cy="671.4" r="5.3"/><circle cx="506.5" cy="671.4" r="5.3"/><circle cx="515.0" cy="671.4" r="5.3"/><circle cx="522.2" cy="671.4" r="5.3"/><circle cx="537.5" cy="671.4" r="5.3"/><circle cx="544.6" cy="671.4" r="5.3"/><circle cx="544.6" cy="671.4" r="5.3"/><circle cx="546.9" cy="671.4" r="5.3"/><circle cx="549.1" cy="671.4" r="5.3"/><circle cx="549.1" cy="671.4" r="5.3"/><circle cx="553.6" cy="671.4" r="5.3"/><circle cx="553.6" cy="671.4" r="5.3"/><circle cx="553.6" cy="671.4" r="5.3"/><circle cx="558.1" cy="671.4" r="5.3"/><circle cx="560.3" cy="671.4" r="5.3"/><circle cx="562.6" cy="671.4" r="5.3"/><circle cx="564.8" cy="671.4" r="5.3"/><circle cx="567.0" cy="671.4" r="5.3"/><circle cx="564.8" cy="671.4" r="5.3"/><circle cx="569.3" cy="671.4" r="5.3"/><circle cx="571.5" cy="671.4" r="5.3"/><circle cx="573.8" cy="671.4" r="5.3"/><circle cx="576.0" cy="671.4" r="5.3"/><circle cx="580.5" cy="671.4" r="5.3"/><circle cx="585.0" cy="671.4" r="5.3"/><circle cx="589.5" cy="671.4" r="5.3"/><circle cx="591.7" cy="671.4" r="5.3"/><circle cx="596.2" cy="671.4" r="5.3"/><circle cx="606.7" cy="671.4" r="5.3"/><circle cx="606.7" cy="671.4" r="5.3"/><circle cx="614.1" cy="671.4" r="5.3"/><circle cx="616.4" cy="671.4" r="5.3"/><circle cx="618.6" cy="671.4" r="5.3"/><circle cx="620.8" cy="671.4" r="5.3"/><circle cx="620.8" cy="671.4" r="5.3"/><circle cx="625.3" cy="671.4" r="5.3"/><circle cx="627.6" cy="671.4" r="5.3"/><circle cx="629.8" cy="671.4" r="5.3"/><circle cx="629.8" cy="671.4" r="5.3"/><circle cx="632.1" cy="671.4" r="5.3"/><circle cx="634.3" cy="671.4" r="5.3"/><circle cx="634.3" cy="671.4" r="5.3"/><circle cx="638.8" cy="671.4" r="5.3"/><circle cx="641.0" cy="671.4" r="5.3"/><circle cx="641.0" cy="671.4" r="5.3"/><circle cx="643.3" cy="671.4" r="5.3"/><circle cx="645.5" cy="671.4" r="5.3"/><circle cx="645.5" cy="671.4" r="5.3"/><circle cx="650.0" cy="671.4" r="5.3"/><circle cx="650.0" cy="671.4" r="5.3"/><circle cx="652.2" cy="671.4" r="5.3"/><circle cx="654.5" cy="671.4" r="5.3"/><circle cx="665.7" cy="671.4" r="5.3"/><circle cx="665.7" cy="671.4" r="5.3"/><circle cx="667.9" cy="671.4" r="5.3"/><circle cx="672.4" cy="671.4" r="5.3"/><circle cx="672.4" cy="671.4" r="5.3"/><circle cx="672.4" cy="671.4" r="5.3"/><circle cx="674.6" cy="671.4" r="5.3"/><circle cx="679.1" cy="671.4" r="5.3"/><circle cx="681.4" cy="671.4" r="5.3"/><circle cx="681.4" cy="671.4" r="5.3"/><circle cx="683.6" cy="671.4" r="5.3"/><circle cx="683.6" cy="671.4" r="5.3"/><circle cx="685.9" cy="671.4" r="5.3"/><circle cx="688.1" cy="671.4" r="5.3"/><circle cx="692.6" cy="671.4" r="5.3"/><circle cx="692.6" cy="671.4" r="5.3"/><circle cx="694.8" cy="671.4" r="5.3"/><circle cx="694.8" cy="671.4" r="5.3"/><circle cx="697.1" cy="671.4" r="5.3"/><circle cx="699.3" cy="671.4" r="5.3"/><circle cx="701.5" cy="671.4" r="5.3"/><circle cx="703.8" cy="671.4" r="5.3"/><circle cx="706.0" cy="671.4" r="5.3"/><circle cx="706.0" cy="671.4" r="5.3"/><circle cx="710.5" cy="671.4" r="5.3"/><circle cx="717.2" cy="671.4" r="5.3"/><circle cx="719.5" cy="671.4" r="5.3"/><circle cx="721.7" cy="671.4" r="5.3"/><circle cx="726.2" cy="671.4" r="5.3"/><circle cx="726.2" cy="671.4" r="5.3"/><circle cx="744.1" cy="671.4" r="5.3"/><circle cx="744.1" cy="671.4" r="5.3"/><circle cx="744.1" cy="671.4" r="5.3"/><circle cx="746.4" cy="671.4" r="5.3"/><circle cx="750.9" cy="671.4" r="5.3"/><circle cx="753.1" cy="671.4" r="5.3"/><circle cx="757.6" cy="671.4" r="5.3"/><circle cx="762.1" cy="671.4" r="5.3"/><circle cx="764.3" cy="671.4" r="5.3"/><circle cx="766.6" cy="671.4" r="5.3"/><circle cx="771.0" cy="671.4" r="5.3"/><circle cx="771.0" cy="671.4" r="5.3"/><circle cx="773.3" cy="671.4" r="5.3"/><circle cx="775.5" cy="671.4" r="5.3"/><circle cx="777.8" cy="671.4" r="5.3"/><circle cx="782.2" cy="671.4" r="5.3"/><circle cx="782.2" cy="671.4" r="5.3"/><circle cx="786.7" cy="671.4" r="5.3"/><circle cx="786.7" cy="671.4" r="5.3"/><circle cx="791.2" cy="671.4" r="5.3"/><circle cx="810.7" cy="671.4" r="5.3"/><circle cx="810.7" cy="671.4" r="5.3"/><circle cx="810.7" cy="671.4" r="5.3"/><circle cx="836.0" cy="671.4" r="5.3"/><circle cx="858.0" cy="671.4" r="5.3"/><circle cx="862.9" cy="671.4" r="5.3"/><circle cx="874.2" cy="671.4" r="5.3"/><circle cx="878.2" cy="671.4" r="5.3"/><circle cx="880.9" cy="671.4" r="5.3"/><circle cx="896.4" cy="671.4" r="5.3"/><circle cx="912.3" cy="671.4" r="5.3"/><circle cx="313.7" cy="689.0" r="5.3"/><circle cx="324.9" cy="689.0" r="5.3"/><circle cx="363.1" cy="689.0" r="5.3"/><circle cx="392.2" cy="689.0" r="5.3"/><circle cx="395.6" cy="689.0" r="5.3"/><circle cx="398.9" cy="689.0" r="5.3"/><circle cx="407.4" cy="689.0" r="5.3"/><circle cx="414.2" cy="689.0" r="5.3"/><circle cx="419.1" cy="689.0" r="5.3"/><circle cx="430.3" cy="689.0" r="5.3"/><circle cx="432.5" cy="689.0" r="5.3"/><circle cx="439.3" cy="689.0" r="5.3"/><circle cx="443.8" cy="689.0" r="5.3"/><circle cx="452.5" cy="689.0" r="5.3"/><circle cx="461.7" cy="689.0" r="5.3"/><circle cx="466.2" cy="689.0" r="5.3"/><circle cx="479.2" cy="689.0" r="5.3"/><circle cx="479.2" cy="689.0" r="5.3"/><circle cx="490.8" cy="689.0" r="5.3"/><circle cx="498.2" cy="689.0" r="5.3"/><circle cx="504.3" cy="689.0" r="5.3"/><circle cx="513.2" cy="689.0" r="5.3"/><circle cx="513.2" cy="689.0" r="5.3"/><circle cx="513.2" cy="689.0" r="5.3"/><circle cx="513.2" cy="689.0" r="5.3"/><circle cx="524.2" cy="689.0" r="5.3"/><circle cx="531.2" cy="689.0" r="5.3"/><circle cx="533.4" cy="689.0" r="5.3"/><circle cx="533.4" cy="689.0" r="5.3"/><circle cx="535.7" cy="689.0" r="5.3"/><circle cx="537.9" cy="689.0" r="5.3"/><circle cx="540.1" cy="689.0" r="5.3"/><circle cx="542.4" cy="689.0" r="5.3"/><circle cx="542.4" cy="689.0" r="5.3"/><circle cx="546.9" cy="689.0" r="5.3"/><circle cx="549.1" cy="689.0" r="5.3"/><circle cx="549.1" cy="689.0" r="5.3"/><circle cx="553.6" cy="689.0" r="5.3"/><circle cx="553.6" cy="689.0" r="5.3"/><circle cx="555.8" cy="689.0" r="5.3"/><circle cx="555.8" cy="689.0" r="5.3"/><circle cx="558.1" cy="689.0" r="5.3"/><circle cx="560.3" cy="689.0" r="5.3"/><circle cx="564.8" cy="689.0" r="5.3"/><circle cx="564.8" cy="689.0" r="5.3"/><circle cx="567.0" cy="689.0" r="5.3"/><circle cx="569.3" cy="689.0" r="5.3"/><circle cx="569.3" cy="689.0" r="5.3"/><circle cx="571.5" cy="689.0" r="5.3"/><circle cx="573.8" cy="689.0" r="5.3"/><circle cx="578.3" cy="689.0" r="5.3"/><circle cx="578.3" cy="689.0" r="5.3"/><circle cx="580.5" cy="689.0" r="5.3"/><circle cx="580.5" cy="689.0" r="5.3"/><circle cx="582.7" cy="689.0" r="5.3"/><circle cx="585.0" cy="689.0" r="5.3"/><circle cx="589.5" cy="689.0" r="5.3"/><circle cx="591.7" cy="689.0" r="5.3"/><circle cx="596.2" cy="689.0" r="5.3"/><circle cx="598.4" cy="689.0" r="5.3"/><circle cx="600.7" cy="689.0" r="5.3"/><circle cx="602.9" cy="689.0" r="5.3"/><circle cx="605.2" cy="689.0" r="5.3"/><circle cx="607.4" cy="689.0" r="5.3"/><circle cx="609.6" cy="689.0" r="5.3"/><circle cx="611.9" cy="689.0" r="5.3"/><circle cx="611.9" cy="689.0" r="5.3"/><circle cx="616.4" cy="689.0" r="5.3"/><circle cx="618.6" cy="689.0" r="5.3"/><circle cx="620.8" cy="689.0" r="5.3"/><circle cx="623.1" cy="689.0" r="5.3"/><circle cx="625.3" cy="689.0" r="5.3"/><circle cx="625.3" cy="689.0" r="5.3"/><circle cx="629.8" cy="689.0" r="5.3"/><circle cx="629.8" cy="689.0" r="5.3"/><circle cx="632.1" cy="689.0" r="5.3"/><circle cx="634.3" cy="689.0" r="5.3"/><circle cx="636.5" cy="689.0" r="5.3"/><circle cx="638.8" cy="689.0" r="5.3"/><circle cx="641.0" cy="689.0" r="5.3"/><circle cx="641.0" cy="689.0" r="5.3"/><circle cx="643.3" cy="689.0" r="5.3"/><circle cx="645.5" cy="689.0" r="5.3"/><circle cx="647.7" cy="689.0" r="5.3"/><circle cx="650.0" cy="689.0" r="5.3"/><circle cx="650.0" cy="689.0" r="5.3"/><circle cx="652.2" cy="689.0" r="5.3"/><circle cx="654.5" cy="689.0" r="5.3"/><circle cx="659.0" cy="689.0" r="5.3"/><circle cx="659.0" cy="689.0" r="5.3"/><circle cx="659.0" cy="689.0" r="5.3"/><circle cx="663.4" cy="689.0" r="5.3"/><circle cx="665.7" cy="689.0" r="5.3"/><circle cx="672.4" cy="689.0" r="5.3"/><circle cx="672.4" cy="689.0" r="5.3"/><circle cx="674.6" cy="689.0" r="5.3"/><circle cx="676.9" cy="689.0" r="5.3"/><circle cx="679.1" cy="689.0" r="5.3"/><circle cx="679.1" cy="689.0" r="5.3"/><circle cx="681.4" cy="689.0" r="5.3"/><circle cx="683.6" cy="689.0" r="5.3"/><circle cx="685.9" cy="689.0" r="5.3"/><circle cx="690.3" cy="689.0" r="5.3"/><circle cx="690.3" cy="689.0" r="5.3"/><circle cx="692.6" cy="689.0" r="5.3"/><circle cx="692.6" cy="689.0" r="5.3"/><circle cx="694.8" cy="689.0" r="5.3"/><circle cx="697.1" cy="689.0" r="5.3"/><circle cx="699.3" cy="689.0" r="5.3"/><circle cx="699.3" cy="689.0" r="5.3"/><circle cx="701.5" cy="689.0" r="5.3"/><circle cx="706.0" cy="689.0" r="5.3"/><circle cx="706.0" cy="689.0" r="5.3"/><circle cx="708.3" cy="689.0" r="5.3"/><circle cx="710.5" cy="689.0" r="5.3"/><circle cx="712.8" cy="689.0" r="5.3"/><circle cx="712.8" cy="689.0" r="5.3"/><circle cx="715.0" cy="689.0" r="5.3"/><circle cx="717.2" cy="689.0" r="5.3"/><circle cx="719.5" cy="689.0" r="5.3"/><circle cx="721.7" cy="689.0" r="5.3"/><circle cx="724.0" cy="689.0" r="5.3"/><circle cx="726.2" cy="689.0" r="5.3"/><circle cx="728.4" cy="689.0" r="5.3"/><circle cx="728.4" cy="689.0" r="5.3"/><circle cx="728.4" cy="689.0" r="5.3"/><circle cx="732.9" cy="689.0" r="5.3"/><circle cx="735.2" cy="689.0" r="5.3"/><circle cx="737.4" cy="689.0" r="5.3"/><circle cx="737.4" cy="689.0" r="5.3"/><circle cx="739.7" cy="689.0" r="5.3"/><circle cx="741.9" cy="689.0" r="5.3"/><circle cx="744.1" cy="689.0" r="5.3"/><circle cx="746.4" cy="689.0" r="5.3"/><circle cx="748.6" cy="689.0" r="5.3"/><circle cx="750.9" cy="689.0" r="5.3"/><circle cx="750.9" cy="689.0" r="5.3"/><circle cx="750.9" cy="689.0" r="5.3"/><circle cx="762.1" cy="689.0" r="5.3"/><circle cx="768.8" cy="689.0" r="5.3"/><circle cx="773.3" cy="689.0" r="5.3"/><circle cx="782.2" cy="689.0" r="5.3"/><circle cx="782.2" cy="689.0" r="5.3"/><circle cx="800.2" cy="689.0" r="5.3"/><circle cx="813.6" cy="689.0" r="5.3"/><circle cx="828.2" cy="689.0" r="5.3"/><circle cx="836.0" cy="689.0" r="5.3"/><circle cx="836.0" cy="689.0" r="5.3"/><circle cx="836.0" cy="689.0" r="5.3"/><circle cx="887.2" cy="689.0" r="5.3"/><circle cx="887.2" cy="689.0" r="5.3"/><circle cx="894.6" cy="689.0" r="5.3"/><circle cx="921.0" cy="689.0" r="5.3"/><circle cx="363.1" cy="706.6" r="5.3"/><circle cx="370.9" cy="706.6" r="5.3"/><circle cx="374.3" cy="706.6" r="5.3"/><circle cx="386.8" cy="706.6" r="5.3"/><circle cx="388.8" cy="706.6" r="5.3"/><circle cx="390.6" cy="706.6" r="5.3"/><circle cx="392.6" cy="706.6" r="5.3"/><circle cx="405.0" cy="706.6" r="5.3"/><circle cx="407.4" cy="706.6" r="5.3"/><circle cx="409.7" cy="706.6" r="5.3"/><circle cx="411.5" cy="706.6" r="5.3"/><circle cx="413.3" cy="706.6" r="5.3"/><circle cx="415.1" cy="706.6" r="5.3"/><circle cx="423.6" cy="706.6" r="5.3"/><circle cx="428.1" cy="706.6" r="5.3"/><circle cx="430.3" cy="706.6" r="5.3"/><circle cx="439.3" cy="706.6" r="5.3"/><circle cx="443.8" cy="706.6" r="5.3"/><circle cx="446.0" cy="706.6" r="5.3"/><circle cx="448.2" cy="706.6" r="5.3"/><circle cx="450.5" cy="706.6" r="5.3"/><circle cx="455.0" cy="706.6" r="5.3"/><circle cx="455.0" cy="706.6" r="5.3"/><circle cx="459.4" cy="706.6" r="5.3"/><circle cx="461.7" cy="706.6" r="5.3"/><circle cx="463.9" cy="706.6" r="5.3"/><circle cx="472.9" cy="706.6" r="5.3"/><circle cx="472.9" cy="706.6" r="5.3"/><circle cx="476.7" cy="706.6" r="5.3"/><circle cx="476.7" cy="706.6" r="5.3"/><circle cx="485.9" cy="706.6" r="5.3"/><circle cx="485.9" cy="706.6" r="5.3"/><circle cx="495.1" cy="706.6" r="5.3"/><circle cx="499.8" cy="706.6" r="5.3"/><circle cx="502.0" cy="706.6" r="5.3"/><circle cx="504.3" cy="706.6" r="5.3"/><circle cx="506.5" cy="706.6" r="5.3"/><circle cx="506.5" cy="706.6" r="5.3"/><circle cx="508.8" cy="706.6" r="5.3"/><circle cx="511.0" cy="706.6" r="5.3"/><circle cx="513.2" cy="706.6" r="5.3"/><circle cx="515.5" cy="706.6" r="5.3"/><circle cx="515.5" cy="706.6" r="5.3"/><circle cx="520.0" cy="706.6" r="5.3"/><circle cx="520.0" cy="706.6" r="5.3"/><circle cx="522.2" cy="706.6" r="5.3"/><circle cx="524.5" cy="706.6" r="5.3"/><circle cx="528.9" cy="706.6" r="5.3"/><circle cx="528.9" cy="706.6" r="5.3"/><circle cx="531.2" cy="706.6" r="5.3"/><circle cx="531.2" cy="706.6" r="5.3"/><circle cx="533.4" cy="706.6" r="5.3"/><circle cx="535.7" cy="706.6" r="5.3"/><circle cx="540.1" cy="706.6" r="5.3"/><circle cx="540.1" cy="706.6" r="5.3"/><circle cx="540.1" cy="706.6" r="5.3"/><circle cx="542.4" cy="706.6" r="5.3"/><circle cx="544.6" cy="706.6" r="5.3"/><circle cx="546.9" cy="706.6" r="5.3"/><circle cx="549.1" cy="706.6" r="5.3"/><circle cx="549.1" cy="706.6" r="5.3"/><circle cx="553.6" cy="706.6" r="5.3"/><circle cx="555.8" cy="706.6" r="5.3"/><circle cx="555.8" cy="706.6" r="5.3"/><circle cx="555.8" cy="706.6" r="5.3"/><circle cx="560.3" cy="706.6" r="5.3"/><circle cx="562.6" cy="706.6" r="5.3"/><circle cx="564.8" cy="706.6" r="5.3"/><circle cx="564.8" cy="706.6" r="5.3"/><circle cx="569.3" cy="706.6" r="5.3"/><circle cx="569.3" cy="706.6" r="5.3"/><circle cx="571.5" cy="706.6" r="5.3"/><circle cx="571.5" cy="706.6" r="5.3"/><circle cx="576.0" cy="706.6" r="5.3"/><circle cx="576.0" cy="706.6" r="5.3"/><circle cx="580.5" cy="706.6" r="5.3"/><circle cx="580.5" cy="706.6" r="5.3"/><circle cx="582.7" cy="706.6" r="5.3"/><circle cx="585.0" cy="706.6" r="5.3"/><circle cx="585.0" cy="706.6" r="5.3"/><circle cx="589.5" cy="706.6" r="5.3"/><circle cx="589.5" cy="706.6" r="5.3"/><circle cx="591.7" cy="706.6" r="5.3"/><circle cx="591.7" cy="706.6" r="5.3"/><circle cx="596.2" cy="706.6" r="5.3"/><circle cx="598.4" cy="706.6" r="5.3"/><circle cx="600.7" cy="706.6" r="5.3"/><circle cx="600.7" cy="706.6" r="5.3"/><circle cx="602.9" cy="706.6" r="5.3"/><circle cx="602.9" cy="706.6" r="5.3"/><circle cx="607.4" cy="706.6" r="5.3"/><circle cx="607.4" cy="706.6" r="5.3"/><circle cx="609.6" cy="706.6" r="5.3"/><circle cx="611.9" cy="706.6" r="5.3"/><circle cx="614.1" cy="706.6" r="5.3"/><circle cx="622.4" cy="706.6" r="5.3"/><circle cx="624.0" cy="706.6" r="5.3"/><circle cx="624.0" cy="706.6" r="5.3"/><circle cx="634.7" cy="706.6" r="5.3"/><circle cx="634.7" cy="706.6" r="5.3"/><circle cx="634.7" cy="706.6" r="5.3"/><circle cx="634.7" cy="706.6" r="5.3"/><circle cx="649.1" cy="706.6" r="5.3"/><circle cx="654.9" cy="706.6" r="5.3"/><circle cx="665.7" cy="706.6" r="5.3"/><circle cx="670.2" cy="706.6" r="5.3"/><circle cx="672.4" cy="706.6" r="5.3"/><circle cx="674.6" cy="706.6" r="5.3"/><circle cx="676.9" cy="706.6" r="5.3"/><circle cx="679.1" cy="706.6" r="5.3"/><circle cx="681.4" cy="706.6" r="5.3"/><circle cx="685.9" cy="706.6" r="5.3"/><circle cx="688.1" cy="706.6" r="5.3"/><circle cx="688.1" cy="706.6" r="5.3"/><circle cx="692.6" cy="706.6" r="5.3"/><circle cx="702.4" cy="706.6" r="5.3"/><circle cx="702.4" cy="706.6" r="5.3"/><circle cx="702.4" cy="706.6" r="5.3"/><circle cx="702.4" cy="706.6" r="5.3"/><circle cx="716.6" cy="706.6" r="5.3"/><circle cx="716.6" cy="706.6" r="5.3"/><circle cx="716.6" cy="706.6" r="5.3"/><circle cx="730.7" cy="706.6" r="5.3"/><circle cx="734.9" cy="706.6" r="5.3"/><circle cx="741.4" cy="706.6" r="5.3"/><circle cx="741.4" cy="706.6" r="5.3"/><circle cx="754.9" cy="706.6" r="5.3"/><circle cx="767.5" cy="706.6" r="5.3"/><circle cx="767.5" cy="706.6" r="5.3"/><circle cx="777.8" cy="706.6" r="5.3"/><circle cx="789.0" cy="706.6" r="5.3"/><circle cx="789.0" cy="706.6" r="5.3"/><circle cx="815.7" cy="706.6" r="5.3"/><circle cx="820.6" cy="706.6" r="5.3"/><circle cx="851.7" cy="706.6" r="5.3"/><circle cx="878.4" cy="706.6" r="5.3"/><circle cx="896.4" cy="706.6" r="5.3"/><circle cx="350.9" cy="724.3" r="5.3"/><circle cx="353.4" cy="724.3" r="5.3"/><circle cx="369.3" cy="724.3" r="5.3"/><circle cx="384.3" cy="724.3" r="5.3"/><circle cx="387.7" cy="724.3" r="5.3"/><circle cx="392.6" cy="724.3" r="5.3"/><circle cx="400.0" cy="724.3" r="5.3"/><circle cx="407.4" cy="724.3" r="5.3"/><circle cx="407.4" cy="724.3" r="5.3"/><circle cx="407.4" cy="724.3" r="5.3"/><circle cx="407.4" cy="724.3" r="5.3"/><circle cx="419.1" cy="724.3" r="5.3"/><circle cx="421.3" cy="724.3" r="5.3"/><circle cx="425.8" cy="724.3" r="5.3"/><circle cx="428.1" cy="724.3" r="5.3"/><circle cx="440.8" cy="724.3" r="5.3"/><circle cx="451.6" cy="724.3" r="5.3"/><circle cx="456.8" cy="724.3" r="5.3"/><circle cx="466.6" cy="724.3" r="5.3"/><circle cx="471.8" cy="724.3" r="5.3"/><circle cx="476.7" cy="724.3" r="5.3"/><circle cx="483.4" cy="724.3" r="5.3"/><circle cx="495.1" cy="724.3" r="5.3"/><circle cx="495.1" cy="724.3" r="5.3"/><circle cx="502.5" cy="724.3" r="5.3"/><circle cx="511.7" cy="724.3" r="5.3"/><circle cx="511.7" cy="724.3" r="5.3"/><circle cx="511.7" cy="724.3" r="5.3"/><circle cx="511.7" cy="724.3" r="5.3"/><circle cx="525.8" cy="724.3" r="5.3"/><circle cx="535.0" cy="724.3" r="5.3"/><circle cx="540.1" cy="724.3" r="5.3"/><circle cx="544.6" cy="724.3" r="5.3"/><circle cx="546.9" cy="724.3" r="5.3"/><circle cx="549.1" cy="724.3" r="5.3"/><circle cx="551.4" cy="724.3" r="5.3"/><circle cx="555.8" cy="724.3" r="5.3"/><circle cx="553.6" cy="724.3" r="5.3"/><circle cx="558.1" cy="724.3" r="5.3"/><circle cx="558.1" cy="724.3" r="5.3"/><circle cx="560.3" cy="724.3" r="5.3"/><circle cx="564.8" cy="724.3" r="5.3"/><circle cx="564.8" cy="724.3" r="5.3"/><circle cx="567.0" cy="724.3" r="5.3"/><circle cx="567.0" cy="724.3" r="5.3"/><circle cx="569.3" cy="724.3" r="5.3"/><circle cx="571.5" cy="724.3" r="5.3"/><circle cx="576.0" cy="724.3" r="5.3"/><circle cx="573.8" cy="724.3" r="5.3"/><circle cx="578.3" cy="724.3" r="5.3"/><circle cx="580.5" cy="724.3" r="5.3"/><circle cx="580.5" cy="724.3" r="5.3"/><circle cx="582.7" cy="724.3" r="5.3"/><circle cx="587.2" cy="724.3" r="5.3"/><circle cx="587.2" cy="724.3" r="5.3"/><circle cx="587.2" cy="724.3" r="5.3"/><circle cx="589.5" cy="724.3" r="5.3"/><circle cx="598.4" cy="724.3" r="5.3"/><circle cx="602.9" cy="724.3" r="5.3"/><circle cx="602.9" cy="724.3" r="5.3"/><circle cx="605.2" cy="724.3" r="5.3"/><circle cx="607.4" cy="724.3" r="5.3"/><circle cx="607.4" cy="724.3" r="5.3"/><circle cx="609.6" cy="724.3" r="5.3"/><circle cx="618.6" cy="724.3" r="5.3"/><circle cx="618.6" cy="724.3" r="5.3"/><circle cx="620.8" cy="724.3" r="5.3"/><circle cx="623.1" cy="724.3" r="5.3"/><circle cx="625.3" cy="724.3" r="5.3"/><circle cx="627.6" cy="724.3" r="5.3"/><circle cx="629.8" cy="724.3" r="5.3"/><circle cx="634.3" cy="724.3" r="5.3"/><circle cx="636.5" cy="724.3" r="5.3"/><circle cx="647.3" cy="724.3" r="5.3"/><circle cx="647.3" cy="724.3" r="5.3"/><circle cx="656.5" cy="724.3" r="5.3"/><circle cx="661.4" cy="724.3" r="5.3"/><circle cx="665.9" cy="724.3" r="5.3"/><circle cx="697.3" cy="724.3" r="5.3"/><circle cx="697.3" cy="724.3" r="5.3"/><circle cx="697.3" cy="724.3" r="5.3"/><circle cx="697.3" cy="724.3" r="5.3"/><circle cx="720.4" cy="724.3" r="5.3"/><circle cx="720.4" cy="724.3" r="5.3"/><circle cx="732.3" cy="724.3" r="5.3"/><circle cx="739.0" cy="724.3" r="5.3"/><circle cx="743.9" cy="724.3" r="5.3"/><circle cx="749.1" cy="724.3" r="5.3"/><circle cx="753.1" cy="724.3" r="5.3"/><circle cx="759.8" cy="724.3" r="5.3"/><circle cx="789.9" cy="724.3" r="5.3"/><circle cx="789.9" cy="724.3" r="5.3"/><circle cx="832.7" cy="724.3" r="5.3"/><circle cx="832.7" cy="724.3" r="5.3"/><circle cx="282.3" cy="742.0" r="5.3"/><circle cx="309.2" cy="742.0" r="5.3"/><circle cx="329.4" cy="742.0" r="5.3"/><circle cx="351.8" cy="742.0" r="5.3"/><circle cx="370.9" cy="742.0" r="5.3"/><circle cx="373.6" cy="742.0" r="5.3"/><circle cx="382.8" cy="742.0" r="5.3"/><circle cx="389.3" cy="742.0" r="5.3"/><circle cx="391.1" cy="742.0" r="5.3"/><circle cx="392.9" cy="742.0" r="5.3"/><circle cx="394.4" cy="742.0" r="5.3"/><circle cx="405.0" cy="742.0" r="5.3"/><circle cx="415.7" cy="742.0" r="5.3"/><circle cx="415.7" cy="742.0" r="5.3"/><circle cx="425.8" cy="742.0" r="5.3"/><circle cx="430.3" cy="742.0" r="5.3"/><circle cx="428.1" cy="742.0" r="5.3"/><circle cx="430.3" cy="742.0" r="5.3"/><circle cx="432.5" cy="742.0" r="5.3"/><circle cx="437.0" cy="742.0" r="5.3"/><circle cx="439.3" cy="742.0" r="5.3"/><circle cx="439.3" cy="742.0" r="5.3"/><circle cx="441.5" cy="742.0" r="5.3"/><circle cx="443.8" cy="742.0" r="5.3"/><circle cx="446.0" cy="742.0" r="5.3"/><circle cx="448.2" cy="742.0" r="5.3"/><circle cx="462.6" cy="742.0" r="5.3"/><circle cx="467.5" cy="742.0" r="5.3"/><circle cx="484.1" cy="742.0" r="5.3"/><circle cx="486.3" cy="742.0" r="5.3"/><circle cx="488.6" cy="742.0" r="5.3"/><circle cx="490.8" cy="742.0" r="5.3"/><circle cx="493.1" cy="742.0" r="5.3"/><circle cx="495.3" cy="742.0" r="5.3"/><circle cx="495.3" cy="742.0" r="5.3"/><circle cx="497.6" cy="742.0" r="5.3"/><circle cx="499.8" cy="742.0" r="5.3"/><circle cx="502.0" cy="742.0" r="5.3"/><circle cx="502.0" cy="742.0" r="5.3"/><circle cx="504.3" cy="742.0" r="5.3"/><circle cx="513.2" cy="742.0" r="5.3"/><circle cx="515.5" cy="742.0" r="5.3"/><circle cx="517.7" cy="742.0" r="5.3"/><circle cx="522.2" cy="742.0" r="5.3"/><circle cx="528.9" cy="742.0" r="5.3"/><circle cx="531.2" cy="742.0" r="5.3"/><circle cx="537.9" cy="742.0" r="5.3"/><circle cx="542.4" cy="742.0" r="5.3"/><circle cx="544.6" cy="742.0" r="5.3"/><circle cx="544.6" cy="742.0" r="5.3"/><circle cx="544.6" cy="742.0" r="5.3"/><circle cx="546.9" cy="742.0" r="5.3"/><circle cx="551.4" cy="742.0" r="5.3"/><circle cx="553.6" cy="742.0" r="5.3"/><circle cx="553.6" cy="742.0" r="5.3"/><circle cx="555.8" cy="742.0" r="5.3"/><circle cx="564.8" cy="742.0" r="5.3"/><circle cx="564.8" cy="742.0" r="5.3"/><circle cx="574.9" cy="742.0" r="5.3"/><circle cx="574.9" cy="742.0" r="5.3"/><circle cx="585.9" cy="742.0" r="5.3"/><circle cx="585.9" cy="742.0" r="5.3"/><circle cx="593.3" cy="742.0" r="5.3"/><circle cx="605.2" cy="742.0" r="5.3"/><circle cx="625.3" cy="742.0" r="5.3"/><circle cx="625.3" cy="742.0" r="5.3"/><circle cx="625.3" cy="742.0" r="5.3"/><circle cx="625.3" cy="742.0" r="5.3"/><circle cx="664.3" cy="742.0" r="5.3"/><circle cx="664.3" cy="742.0" r="5.3"/><circle cx="681.1" cy="742.0" r="5.3"/><circle cx="699.3" cy="742.0" r="5.3"/><circle cx="701.5" cy="742.0" r="5.3"/><circle cx="703.8" cy="742.0" r="5.3"/><circle cx="710.5" cy="742.0" r="5.3"/><circle cx="715.0" cy="742.0" r="5.3"/><circle cx="724.0" cy="742.0" r="5.3"/><circle cx="779.8" cy="742.0" r="5.3"/><circle cx="784.0" cy="742.0" r="5.3"/><circle cx="934.7" cy="742.0" r="5.3"/><circle cx="206.1" cy="759.6" r="5.3"/><circle cx="247.6" cy="759.6" r="5.3"/><circle cx="250.7" cy="759.6" r="5.3"/><circle cx="259.9" cy="759.6" r="5.3"/><circle cx="271.1" cy="759.6" r="5.3"/><circle cx="282.3" cy="759.6" r="5.3"/><circle cx="286.6" cy="759.6" r="5.3"/><circle cx="304.1" cy="759.6" r="5.3"/><circle cx="306.6" cy="759.6" r="5.3"/><circle cx="321.6" cy="759.6" r="5.3"/><circle cx="324.9" cy="759.6" r="5.3"/><circle cx="329.0" cy="759.6" r="5.3"/><circle cx="333.2" cy="759.6" r="5.3"/><circle cx="344.9" cy="759.6" r="5.3"/><circle cx="354.1" cy="759.6" r="5.3"/><circle cx="358.6" cy="759.6" r="5.3"/><circle cx="380.8" cy="759.6" r="5.3"/><circle cx="387.3" cy="759.6" r="5.3"/><circle cx="396.5" cy="759.6" r="5.3"/><circle cx="403.2" cy="759.6" r="5.3"/><circle cx="414.8" cy="759.6" r="5.3"/><circle cx="423.1" cy="759.6" r="5.3"/><circle cx="423.1" cy="759.6" r="5.3"/><circle cx="435.7" cy="759.6" r="5.3"/><circle cx="440.6" cy="759.6" r="5.3"/><circle cx="444.0" cy="759.6" r="5.3"/><circle cx="452.3" cy="759.6" r="5.3"/><circle cx="457.0" cy="759.6" r="5.3"/><circle cx="470.7" cy="759.6" r="5.3"/><circle cx="488.6" cy="759.6" r="5.3"/><circle cx="506.1" cy="759.6" r="5.3"/><circle cx="506.1" cy="759.6" r="5.3"/><circle cx="517.7" cy="759.6" r="5.3"/><circle cx="540.1" cy="759.6" r="5.3"/><circle cx="569.3" cy="759.6" r="5.3"/><circle cx="569.3" cy="759.6" r="5.3"/><circle cx="614.1" cy="759.6" r="5.3"/><circle cx="616.4" cy="759.6" r="5.3"/><circle cx="676.9" cy="759.6" r="5.3"/><circle cx="721.7" cy="759.6" r="5.3"/><circle cx="746.4" cy="759.6" r="5.3"/><circle cx="759.8" cy="759.6" r="5.3"/><circle cx="766.6" cy="759.6" r="5.3"/><circle cx="201.6" cy="777.2" r="5.3"/><circle cx="229.9" cy="777.2" r="5.3"/><circle cx="231.5" cy="777.2" r="5.3"/><circle cx="233.3" cy="777.2" r="5.3"/><circle cx="242.0" cy="777.2" r="5.3"/><circle cx="253.2" cy="777.2" r="5.3"/><circle cx="273.4" cy="777.2" r="5.3"/><circle cx="273.4" cy="777.2" r="5.3"/><circle cx="287.5" cy="777.2" r="5.3"/><circle cx="290.9" cy="777.2" r="5.3"/><circle cx="294.2" cy="777.2" r="5.3"/><circle cx="296.7" cy="777.2" r="5.3"/><circle cx="342.9" cy="777.2" r="5.3"/><circle cx="351.8" cy="777.2" r="5.3"/><circle cx="390.0" cy="777.2" r="5.3"/><circle cx="396.7" cy="777.2" r="5.3"/><circle cx="452.7" cy="777.2" r="5.3"/><circle cx="477.4" cy="777.2" r="5.3"/><circle cx="486.3" cy="777.2" r="5.3"/><circle cx="524.5" cy="777.2" r="5.3"/><circle cx="533.4" cy="777.2" r="5.3"/><circle cx="542.4" cy="777.2" r="5.3"/><circle cx="582.7" cy="777.2" r="5.3"/><circle cx="614.1" cy="777.2" r="5.3"/><circle cx="636.5" cy="777.2" r="5.3"/><circle cx="645.5" cy="777.2" r="5.3"/><circle cx="194.9" cy="794.9" r="5.3"/><circle cx="211.7" cy="794.9" r="5.3"/><circle cx="215.1" cy="794.9" r="5.3"/><circle cx="217.3" cy="794.9" r="5.3"/><circle cx="237.5" cy="794.9" r="5.3"/><circle cx="250.1" cy="794.9" r="5.3"/><circle cx="254.1" cy="794.9" r="5.3"/><circle cx="257.5" cy="794.9" r="5.3"/><circle cx="260.8" cy="794.9" r="5.3"/><circle cx="266.7" cy="794.9" r="5.3"/><circle cx="280.1" cy="794.9" r="5.3"/><circle cx="345.1" cy="794.9" r="5.3"/><circle cx="354.1" cy="794.9" r="5.3"/><circle cx="354.1" cy="794.9" r="5.3"/><circle cx="374.3" cy="794.9" r="5.3"/><circle cx="394.4" cy="794.9" r="5.3"/><circle cx="401.2" cy="794.9" r="5.3"/><circle cx="446.0" cy="794.9" r="5.3"/><circle cx="490.8" cy="794.9" r="5.3"/><circle cx="564.8" cy="794.9" r="5.3"/><circle cx="600.7" cy="794.9" r="5.3"/><circle cx="618.6" cy="794.9" r="5.3"/><circle cx="674.6" cy="794.9" r="5.3"/><circle cx="739.7" cy="794.9" r="5.3"/><circle cx="753.1" cy="794.9" r="5.3"/><circle cx="198.3" cy="812.5" r="5.3"/><circle cx="202.5" cy="812.5" r="5.3"/><circle cx="205.0" cy="812.5" r="5.3"/><circle cx="213.3" cy="812.5" r="5.3"/><circle cx="216.7" cy="812.5" r="5.3"/><circle cx="239.8" cy="812.5" r="5.3"/><circle cx="257.7" cy="812.5" r="5.3"/><circle cx="286.8" cy="812.5" r="5.3"/><circle cx="296.7" cy="812.5" r="5.3"/><circle cx="299.2" cy="812.5" r="5.3"/><circle cx="304.8" cy="812.5" r="5.3"/><circle cx="356.3" cy="812.5" r="5.3"/><circle cx="459.4" cy="812.5" r="5.3"/><circle cx="537.9" cy="812.5" r="5.3"/><circle cx="688.1" cy="812.5" r="5.3"/><circle cx="147.8" cy="830.2" r="5.3"/><circle cx="219.6" cy="830.2" r="5.3"/></g>
<g fill="#B3B3B3" stroke="#4D4D4D" stroke-width="2.84" stroke-linejoin="miter"><line x1="147.40" x2="190.37" y1="181.75" y2="181.75" stroke-linecap="square"/><line x1="190.37" x2="233.33" y1="181.75" y2="181.75" stroke-linecap="square"/><path d="M233.33 181.75V169.5H276.30V181.75Z"/><path d="M276.30 181.75V168.5H319.26V181.75Z"/><path d="M319.26 181.75V169.5H362.23V181.75Z"/><path d="M362.23 181.75V164.25H405.19V181.75Z"/><path d="M405.19 181.75V144.25H448.16V181.75Z"/><path d="M448.15 181.75V136.5H491.12V181.75Z"/><path d="M491.12 181.75V118.5H534.09V181.75Z"/><path d="M534.09 181.75V86.75H577.05V181.75Z"/><path d="M577.05 181.75V57.75H620.02V181.75Z"/><path d="M620.01 181.75V36.75H662.98V181.75Z"/><path d="M662.98 181.75V41.5H705.95V181.75Z"/><path d="M705.95 181.75V40H748.91V181.75Z"/><path d="M748.91 181.75V52H791.88V181.75Z"/><path d="M791.88 181.75V95.75H834.84V181.75Z"/><path d="M834.84 181.75V125.25H877.81V181.75Z"/><path d="M877.81 181.75V151.25H920.77V181.75Z"/><path d="M920.77 181.75V166.75H963.74V181.75Z"/><path d="M963.74 181.75V177H1006.70V181.75Z"/><path d="M1089.45 830.20H1090.3V801.08H1089.45Z"/><path d="M1089.45 801.08H1115.2V771.96H1089.45Z"/><path d="M1089.45 771.96H1135.75V742.84H1089.45Z"/><path d="M1089.45 742.84H1140.25V713.72H1089.45Z"/><path d="M1089.45 713.72H1241.5V684.60H1089.45Z"/><path d="M1089.45 684.60H1304.5V655.48H1089.45Z"/><path d="M1089.45 655.48H1288.5V626.36H1089.45Z"/><path d="M1089.45 626.36H1168.75V597.24H1089.45Z"/><path d="M1089.45 597.24H1190V568.12H1089.45Z"/><path d="M1089.45 568.12H1168.75V539.00H1089.45Z"/><path d="M1089.45 539.00H1107.75V509.88H1089.45Z"/><path d="M1089.45 509.88H1107.75V480.76H1089.45Z"/><path d="M1089.45 480.76H1103.75V451.64H1089.45Z"/><path d="M1089.45 451.64H1099.5V422.52H1089.45Z"/><path d="M1089.45 422.52H1092.3V393.40H1089.45Z"/><path d="M1089.45 393.40H1092.3V364.28H1089.45Z"/><path d="M1089.45 364.28H1090.2V335.16H1089.45Z"/><line y1="335.16" y2="306.04" x1="1089.45" x2="1089.45" stroke-linecap="square"/><line y1="306.04" y2="276.92" x1="1089.45" x2="1089.45" stroke-linecap="square"/><path d="M1089.45 276.92H1090.45V247.80H1089.45Z"/></g>
<text x="92.2" y="696.90" text-anchor="end" font-size="23.47" fill="#4D4D4D">10</text><text x="92.2" y="520.40" text-anchor="end" font-size="23.47" fill="#4D4D4D">20</text><text x="92.2" y="343.90" text-anchor="end" font-size="23.47" fill="#4D4D4D">30</text><text x="309.25" y="888.9" text-anchor="middle" font-size="23.47" fill="#4D4D4D">100</text><text x="533.42" y="888.9" text-anchor="middle" font-size="23.47" fill="#4D4D4D">200</text><text x="757.59" y="888.9" text-anchor="middle" font-size="23.47" fill="#4D4D4D">300</text><text x="981.76" y="888.9" text-anchor="middle" font-size="23.47" fill="#4D4D4D">400</text><text x="577.12" y="923.8" text-anchor="middle" font-size="29.33" fill="#000">Number of spaces</text><text transform="translate(51.3,539.20) rotate(-90)" text-anchor="middle" font-size="29.33" letter-spacing="-0.1" fill="#000">Number of commas</text>
</svg></body></html>
